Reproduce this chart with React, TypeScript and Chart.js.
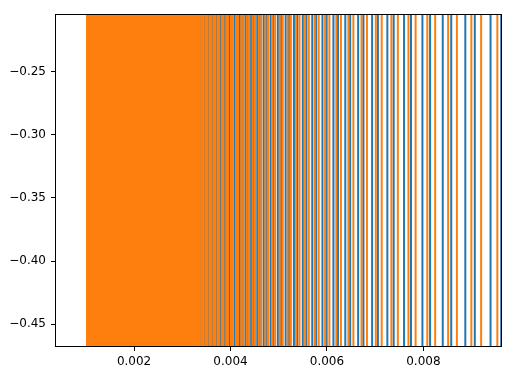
import React, { useEffect, useRef } from "react";
import { Chart, registerables } from "chart.js";

Chart.register(...registerables);

// ---- data -------------------------------------------------------------
const xTicks = [0.002, 0.004, 0.006, 0.008];
const yTicks = [-0.45, -0.4, -0.35, -0.3, -0.25];
const xRange = [0.00036, 0.00963];
const yRange = [-0.468, -0.2045];
const seriesNames = ["sin(1/x)", "cos(1/x)"];
const seriesColors = ["#1f77b4", "#ff7f0e"];
const seriesLow = -1;
const seriesHigh = 1;

// x positions (in units of 1e-3) where each curve passes through the visible y window
const blueCrossings = [
  3.3196, 3.3467, 3.3903, 3.4186, 3.4641, 3.4937, 3.5411, 3.5721, 3.6217, 3.6541,
  3.706, 3.74, 3.7944, 3.83, 3.8871, 3.9244, 3.9844, 4.0236, 4.0867, 4.128,
  4.1944, 4.2379, 4.3079, 4.3538, 4.4278, 4.4763, 4.5545, 4.6058, 4.6887, 4.7431,
  4.831, 4.8888, 4.9822, 5.0437, 5.1432, 5.2088, 5.3149, 5.385, 5.4986, 5.5736,
  5.6953, 5.7759, 5.9067, 5.9934, 6.1344, 6.2279, 6.3803, 6.4816, 6.6468, 6.7567,
  6.9364, 7.0563, 7.2525, 7.3836, 7.5988, 7.7428, 7.9798, 8.1387, 8.401, 8.5774,
  8.8692, 9.066, 9.3926, 9.6136,
];
const orangeCrossings = [
  3.3369, 3.3644, 3.4084, 3.4371, 3.483, 3.513, 3.5609, 3.5922, 3.6424, 3.6752,
  3.7277, 3.7621, 3.8171, 3.8531, 3.9109, 3.9487, 4.0095, 4.0492, 4.1131, 4.1549,
  4.2222, 4.2663, 4.3372, 4.3838, 4.4588, 4.508, 4.5873, 4.6394, 4.7234, 4.7787,
  4.8679, 4.9266, 5.0215, 5.084, 5.185, 5.2517, 5.3597, 5.4309, 5.5464, 5.6228,
  5.7467, 5.8287, 5.962, 6.0503, 6.194, 6.2894, 6.4449, 6.5482, 6.7169, 6.8291,
  7.0128, 7.1353, 7.3361, 7.4702, 7.6905, 7.8381, 8.081, 8.2441, 8.5133, 8.6945,
  8.9944, 9.1969, 9.5332, 9.761,
];
// span (units of 1e-3) where the orange curve oscillates so fast it reads as solid
const orangeSolidSpan = [1.0, 3.34];

// ---- helpers ----------------------------------------------------------
function crossingPoints(xs: number[]) {
  const pts: { x: number; y: number }[] = [];
  xs.forEach((v, i) => {
    const x = v * 1e-3;
    const down = i % 2 === 0;
    pts.push({ x, y: down ? seriesHigh : seriesLow });
    pts.push({ x, y: down ? seriesLow : seriesHigh });
  });
  return pts;
}

const fmtMinus = (v: number, d: number) =>
  (v < 0 ? "\u2212" : "") + Math.abs(v).toFixed(d);

const framePlugin = {
  id: "frame",
  afterDraw(chart: any) {
    const { ctx, chartArea: a } = chart;
    ctx.save();
    ctx.strokeStyle = "#000";
    ctx.lineWidth = 1;
    ctx.strokeRect(a.left + 0.5, a.top + 0.5, a.right - a.left - 1, a.bottom - a.top - 1);
    ctx.restore();
  },
};

export default function App() {
  const ref = useRef<HTMLCanvasElement | null>(null);

  useEffect(() => {
    if (!ref.current) return;
    const font = { family: "'DejaVu Sans', sans-serif", size: 12 };
    const chart = new Chart(ref.current, {
      type: "line",
      data: {
        datasets: [
          {
            label: seriesNames[0],
            data: crossingPoints(blueCrossings),
            borderColor: seriesColors[0],
            borderWidth: 2,
            pointRadius: 0,
            fill: false,
            tension: 0,
            order: 3,
          },
          {
            label: seriesNames[1],
            data: crossingPoints(orangeCrossings),
            borderColor: seriesColors[1],
            borderWidth: 2,
            pointRadius: 0,
            fill: false,
            tension: 0,
            order: 2,
          },
          {
            label: seriesNames[1] + " (dense)",
            data: [
              { x: orangeSolidSpan[0] * 1e-3, y: seriesHigh },
              { x: orangeSolidSpan[1] * 1e-3, y: seriesHigh },
            ],
            borderWidth: 0,
            borderColor: seriesColors[1],
            backgroundColor: seriesColors[1],
            pointRadius: 0,
            fill: { value: seriesLow },
            order: 1,
          },
        ],
      },
      options: {
        animation: false,
        responsive: false,
        layout: { padding: { left: 0, right: 14, top: 14, bottom: 0 } },
        plugins: {
          legend: { display: false },
          tooltip: { enabled: false },
        },
        scales: {
          x: {
            type: "linear",
            min: xRange[0],
            max: xRange[1],
            afterFit: (s: any) => {
              s.height = 27;
            },
            afterBuildTicks: (s: any) => {
              s.ticks = xTicks.map((v) => ({ value: v }));
            },
            border: { display: false },
            grid: {
              drawOnChartArea: false,
              drawTicks: true,
              tickLength: 4,
              color: "#000",
              lineWidth: 1,
            },
            ticks: {
              color: "#000",
              font,
              padding: 4,
              maxRotation: 0,
              autoSkip: false,
              callback: (v: any) => fmtMinus(Number(v), 3),
            },
          },
          y: {
            type: "linear",
            min: yRange[0],
            max: yRange[1],
            afterFit: (s: any) => {
              s.width = 55;
            },
            afterBuildTicks: (s: any) => {
              s.ticks = yTicks.map((v) => ({ value: v }));
            },
            border: { display: false },
            grid: {
              drawOnChartArea: false,
              drawTicks: true,
              tickLength: 4,
              color: "#000",
              lineWidth: 1,
            },
            ticks: {
              color: "#000",
              font,
              padding: 5,
              autoSkip: false,
              callback: (v: any) => fmtMinus(Number(v), 2),
            },
          },
        },
      },
      plugins: [framePlugin],
    });
    return () => chart.destroy();
  }, []);

  return (
    <div style={{ position: "absolute", left: 0, top: 0, width: 516, height: 374, background: "#fff" }}>
      <canvas ref={ref} width={516} height={374} style={{ display: "block" }} />
    </div>
  );
}
